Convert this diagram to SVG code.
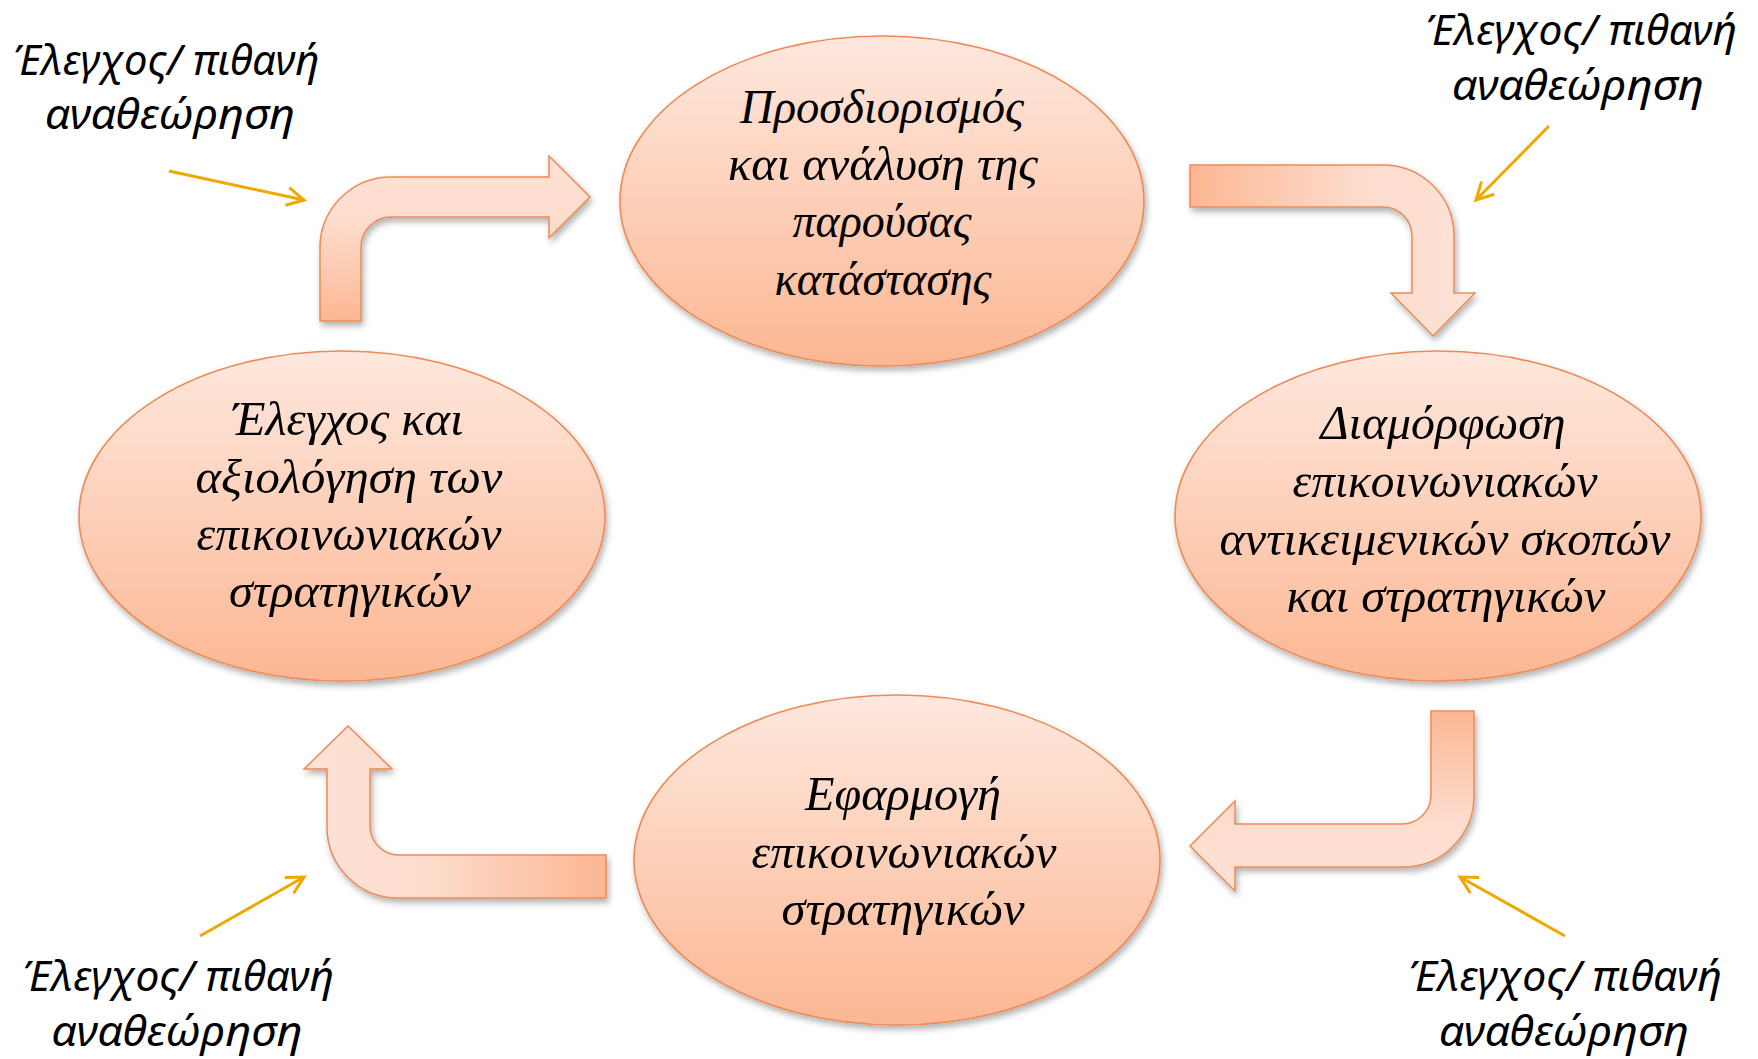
<svg xmlns="http://www.w3.org/2000/svg" width="1758" height="1059" viewBox="0 0 1758 1059">
<defs>
<style>
.node-shape{stroke:#EE8A55;stroke-width:1.6;fill:url(#gEll);filter:url(#sh)}
.ntext{font-family:"Liberation Serif","DejaVu Serif",serif;font-style:italic;font-size:49px;fill:#000;text-anchor:middle}
.ltext{font-family:"Noto Sans","Open Sans","Liberation Sans",sans-serif;font-style:italic;font-size:42px;fill:#000;text-anchor:middle}
.bent{stroke:#EE8A55;stroke-width:1.5;filter:url(#sh)}
.gold{stroke:#EFA800;stroke-width:3;fill:none;marker-end:url(#chev)}
</style>
<linearGradient id="gEll" x1="0" y1="0" x2="0" y2="1">
<stop offset="0" stop-color="#FEE8DE"/>
<stop offset="1" stop-color="#FCB793"/>
</linearGradient>
<linearGradient id="gUp" x1="0" y1="1" x2="0" y2="0">
<stop offset="0" stop-color="#FCB793"/>
<stop offset="0.6" stop-color="#FDDCCD"/>
<stop offset="1" stop-color="#FEE2D6"/>
</linearGradient>
<linearGradient id="gRight" x1="0" y1="0" x2="1" y2="0">
<stop offset="0" stop-color="#FCB793"/>
<stop offset="0.6" stop-color="#FDDCCD"/>
<stop offset="1" stop-color="#FEE2D6"/>
</linearGradient>
<linearGradient id="gDown" x1="0" y1="0" x2="0" y2="1">
<stop offset="0" stop-color="#FCB793"/>
<stop offset="0.6" stop-color="#FDDCCD"/>
<stop offset="1" stop-color="#FEE2D6"/>
</linearGradient>
<linearGradient id="gLeft" x1="1" y1="0" x2="0" y2="0">
<stop offset="0" stop-color="#FCB793"/>
<stop offset="0.6" stop-color="#FDDCCD"/>
<stop offset="1" stop-color="#FEE2D6"/>
</linearGradient>
<filter id="sh" x="-10%" y="-10%" width="125%" height="130%">
<feDropShadow dx="2" dy="4" stdDeviation="3" flood-color="#000" flood-opacity="0.3"/>
</filter>
<marker id="chev" markerUnits="userSpaceOnUse" markerWidth="40" markerHeight="40" viewBox="-20 -20 40 40" refX="0" refY="0" orient="auto" overflow="visible">
<path d="M-17,-9 L0,0 L-17,9" fill="none" stroke="#EFA800" stroke-width="3"/>
</marker>
</defs>
<rect width="1758" height="1059" fill="#FFFFFF"/>

<g id="connectors">
<path id="arrow-left-top" class="bent" fill="url(#gUp)" d="M320,321 L320,248 A71,71 0 0 1 391,177 L549,177 L549,156 L590,197 L549,238 L549,217 L391,217 A30,30 0 0 0 361,247 L361,321 Z"/>
<path id="arrow-top-right" class="bent" fill="url(#gRight)" d="M1190,165 L1383,165 A71,71 0 0 1 1454,236 L1454,293 L1475,293 L1433,336 L1391,293 L1412,293 L1412,236 A29,29 0 0 0 1383,207 L1190,207 Z"/>
<path id="arrow-right-bottom" class="bent" fill="url(#gDown)" d="M1431,711 L1474,711 L1474,796 A71,71 0 0 1 1403,867 L1235,867 L1235,891 L1190,846 L1235,801 L1235,824 L1402,824 A29,29 0 0 0 1431,795 Z"/>
<path id="arrow-bottom-left" class="bent" fill="url(#gLeft)" d="M606,855 L606,898 L398,898 A71,71 0 0 1 327,827 L327,769 L304,769 L348,726 L392,769 L370,769 L370,826 A29,29 0 0 0 399,855 Z"/>
<line class="gold" x1="169" y1="171" x2="304" y2="200"/>
<line class="gold" x1="1549" y1="126" x2="1476" y2="200"/>
<line class="gold" x1="1565" y1="936" x2="1460" y2="877"/>
<line class="gold" x1="200" y1="936" x2="304" y2="877"/>
</g>

<g id="node-top">
<ellipse class="node-shape" cx="882" cy="201" rx="262" ry="165"/>
<text class="ntext" x="882" y="123" textLength="284" lengthAdjust="spacingAndGlyphs">Προσδιορισμός</text>
<text class="ntext" x="883" y="180" textLength="310" lengthAdjust="spacingAndGlyphs">και ανάλυση της</text>
<text class="ntext" x="882" y="237" textLength="179" lengthAdjust="spacingAndGlyphs">παρούσας</text>
<text class="ntext" x="883" y="295" textLength="217" lengthAdjust="spacingAndGlyphs">κατάστασης</text>
</g>

<g id="node-right">
<ellipse class="node-shape" cx="1438" cy="516" rx="263" ry="165"/>
<text class="ntext" x="1443" y="439" textLength="245" lengthAdjust="spacingAndGlyphs">Διαμόρφωση</text>
<text class="ntext" x="1445" y="497" textLength="305" lengthAdjust="spacingAndGlyphs">επικοινωνιακών</text>
<text class="ntext" x="1445" y="555" textLength="451" lengthAdjust="spacingAndGlyphs">αντικειμενικών σκοπών</text>
<text class="ntext" x="1446" y="612" textLength="319" lengthAdjust="spacingAndGlyphs">και στρατηγικών</text>
</g>

<g id="node-bottom">
<ellipse class="node-shape" cx="897" cy="860" rx="263" ry="165"/>
<text class="ntext" x="903" y="810" textLength="196" lengthAdjust="spacingAndGlyphs">Εφαρμογή</text>
<text class="ntext" x="904" y="868" textLength="305" lengthAdjust="spacingAndGlyphs">επικοινωνιακών</text>
<text class="ntext" x="903" y="925" textLength="243" lengthAdjust="spacingAndGlyphs">στρατηγικών</text>
</g>

<g id="node-left">
<ellipse class="node-shape" cx="342" cy="516" rx="263" ry="165"/>
<text class="ntext" x="348" y="435" textLength="231" lengthAdjust="spacingAndGlyphs">Έλεγχος και</text>
<text class="ntext" x="349" y="493" textLength="307" lengthAdjust="spacingAndGlyphs">αξιολόγηση των</text>
<text class="ntext" x="349" y="550" textLength="305" lengthAdjust="spacingAndGlyphs">επικοινωνιακών</text>
<text class="ntext" x="350" y="607" textLength="242" lengthAdjust="spacingAndGlyphs">στρατηγικών</text>
</g>

<g id="label-top-left">
<text class="ltext" x="166" y="75" textLength="307" lengthAdjust="spacingAndGlyphs">Έλεγχος/ πιθανή</text>
<text class="ltext" x="170" y="129" textLength="250" lengthAdjust="spacingAndGlyphs">αναθεώρηση</text>
</g>
<g id="label-top-right">
<text class="ltext" x="1581" y="45" textLength="312" lengthAdjust="spacingAndGlyphs">Έλεγχος/ πιθανή</text>
<text class="ltext" x="1578" y="100" textLength="252" lengthAdjust="spacingAndGlyphs">αναθεώρηση</text>
</g>
<g id="label-bottom-right">
<text class="ltext" x="1565" y="991" textLength="314" lengthAdjust="spacingAndGlyphs">Έλεγχος/ πιθανή</text>
<text class="ltext" x="1564" y="1046" textLength="250" lengthAdjust="spacingAndGlyphs">αναθεώρηση</text>
</g>
<g id="label-bottom-left">
<text class="ltext" x="178" y="991" textLength="312" lengthAdjust="spacingAndGlyphs">Έλεγχος/ πιθανή</text>
<text class="ltext" x="177" y="1046" textLength="251" lengthAdjust="spacingAndGlyphs">αναθεώρηση</text>
</g>
</svg>
